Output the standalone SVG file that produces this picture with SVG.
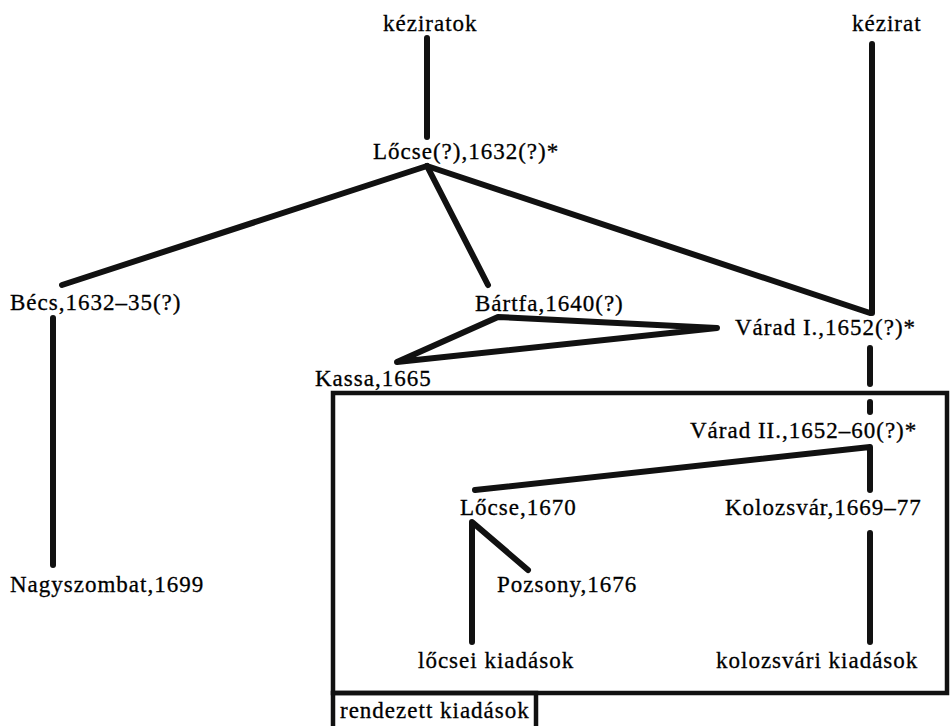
<svg xmlns="http://www.w3.org/2000/svg" width="952" height="726" viewBox="0 0 952 726">
<style>
  text { font-family: "Liberation Serif", "Times New Roman", serif; font-size: 23px; letter-spacing: 1px; fill: #000; stroke: #000; stroke-width: 0.3; }
  .ln { stroke: #111; stroke-width: 6; fill: none; stroke-linecap: round; stroke-linejoin: round; }
  .box { stroke: #111; stroke-width: 4.5; fill: none; }
</style>
<rect width="952" height="726" fill="#ffffff"/>
<g id="connectors">
  <line class="ln" x1="427" y1="38" x2="427" y2="137"/>
  <line class="ln" x1="872" y1="44" x2="872" y2="313"/>
  <line class="ln" x1="427" y1="166" x2="870" y2="313"/>
  <line class="ln" x1="427" y1="166" x2="62" y2="285"/>
  <line class="ln" x1="427" y1="166" x2="488" y2="285"/>
  <line class="ln" x1="53" y1="318" x2="53" y2="565"/>
  <path class="ln" d="M397,362 L498,317 L717,328 Z"/>
  <line class="ln" x1="870" y1="348" x2="870" y2="384"/>
  <line class="ln" x1="870" y1="402" x2="870" y2="412"/>
  <path class="ln" d="M475,490 L870,447 L870,490"/>
  <line class="ln" x1="870" y1="533" x2="870" y2="642"/>
  <path class="ln" d="M472,642 L472,522 L528,570"/>
</g>
<g id="box-rendezett-main">
  <rect class="box" x="333" y="393" width="614" height="300"/>
</g>
<g id="box-rendezett-label">
  <rect class="box" x="333" y="693" width="203" height="40"/>
  <text x="340" y="718">rendezett kiadások</text>
</g>
<g id="n-keziratok"><text x="383" y="31">kéziratok</text></g>
<g id="n-kezirat"><text x="852" y="31">kézirat</text></g>
<g id="n-locse1632"><text x="373" y="159">Lőcse(?),1632(?)*</text></g>
<g id="n-becs"><text x="10" y="310">Bécs,1632–35(?)</text></g>
<g id="n-bartfa"><text x="475" y="311">Bártfa,1640(?)</text></g>
<g id="n-varad1"><text x="735" y="335">Várad I.,1652(?)*</text></g>
<g id="n-kassa"><text x="315" y="386">Kassa,1665</text></g>
<g id="n-varad2"><text x="690" y="438">Várad II.,1652–60(?)*</text></g>
<g id="n-locse1670"><text x="460" y="515">Lőcse,1670</text></g>
<g id="n-kolozsvar"><text x="725" y="515">Kolozsvár,1669–77</text></g>
<g id="n-nagyszombat"><text x="10" y="592">Nagyszombat,1699</text></g>
<g id="n-pozsony"><text x="497" y="592">Pozsony,1676</text></g>
<g id="n-locsei"><text x="418" y="668">lőcsei kiadások</text></g>
<g id="n-kolozsvari"><text x="716" y="668">kolozsvári kiadások</text></g>
</svg>
